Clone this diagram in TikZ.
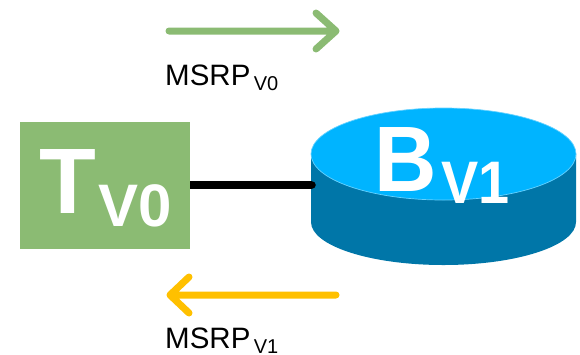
\documentclass[tikz,border=0pt]{standalone}
\usepackage{fontspec}
\setmainfont{Liberation Sans}
\usetikzlibrary{shapes.geometric}
\definecolor{grn}{HTML}{8BBB73}
\definecolor{yel}{HTML}{FFC000}
\definecolor{cyn}{HTML}{00B4FF}
\definecolor{tealb}{HTML}{0076A8}
\tikzset{x=1pt,y=-1pt,
 flow/.style={line width=7pt,line cap=round,line join=round},
 lab/.style={inner sep=0pt,anchor=base west,font=\fontsize{29.5}{30}\selectfont},
 subl/.style={inner sep=0pt,anchor=base west,font=\fontsize{20}{21}\selectfont},
 bigl/.style={inner sep=0pt,anchor=base west,text=white,font=\bfseries\fontsize{93}{96}\selectfont},
 midl/.style={inner sep=0pt,anchor=base west,text=white,font=\bfseries\fontsize{60}{64}\selectfont}}
\begin{document}
\begin{tikzpicture}
\useasboundingbox (0,0) rectangle (580,354);
% green arrow
\coordinate (g1) at (169,31); \coordinate (g2) at (336,31);
\coordinate (g3) at (316,13); \coordinate (g4) at (316,49);
\draw[flow,grn] (g1) -- (g2) (g3) -- (g2) -- (g4);
\node[lab] (m0) at (165,85) {MSRP};
\node[subl] (m0s) at ([xshift=3pt,yshift=-5pt]m0.base east) {V0};
% yellow arrow
\coordinate (y1) at (336,295); \coordinate (y2) at (170,295);
\coordinate (y3) at (189,277); \coordinate (y4) at (189,313);
\draw[flow,yel] (y1) -- (y2) (y3) -- (y2) -- (y4);
\node[lab] (m1) at (165,348) {MSRP};
\node[subl] (m1s) at ([xshift=3pt,yshift=-5pt]m1.base east) {V1};
% T box
\node[rectangle,fill=grn,minimum width=170pt,minimum height=127pt,inner sep=0pt,anchor=north west] (t) at (20,122) {};
\node[bigl] (tt) at (39.5,213) {T};
\node[midl] (ts) at (98,226) {V0};
% cylinder
\fill[tealb] (311,154) -- (311,222) arc[start angle=180,end angle=360,x radius=132.5,y radius=-43] -- (576,154) -- cycle;
\node[fill=cyn,draw=cyn!60!white,line width=0.7pt,ellipse,minimum width=265pt,minimum height=92pt,inner sep=0pt] (b) at (443.5,154) {};
\node[bigl,xscale=.93] (bt) at (374,191) {B};
\node[midl,xscale=.93] (bs) at (441.5,203.5) {V1};
% link
\coordinate (lk) at (312,185);
\draw[line width=7.5pt] (t.east |- lk) -- (lk);
\fill (lk) circle[radius=3.75pt];
\end{tikzpicture}
\end{document}
